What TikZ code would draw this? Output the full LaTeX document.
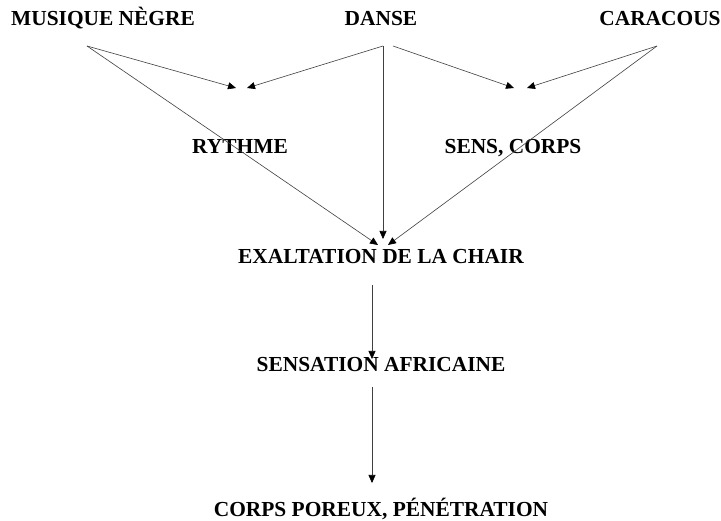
\documentclass[tikz,border=0pt]{standalone}
\usepackage{fontspec}
\setmainfont{Liberation Serif}
\usetikzlibrary{arrows.meta}
\begin{document}
\begin{tikzpicture}[x=1pt,y=-1pt,
  lbl/.style={anchor=base,inner sep=0pt,font=\fontsize{21.4}{24}\selectfont\bfseries},
  link/.style={draw=black!75,line width=0.6pt},
  arr/.style={link,-{Triangle[length=8pt,width=7pt,fill=black,color=black]}}]
\useasboundingbox (0,0) rectangle (721,521);
\fill[white] (0,0) rectangle (721,521);
% nodes
\node[lbl] (mus) at (103,26) {MUSIQUE NÈGRE};
\node[lbl] (dan) at (381,26) {DANSE};
\node[lbl] (car) at (660,26) {CARACOUS};
\node[lbl] (ryt) at (240,154) {RYTHME};
\node[lbl] (sen) at (513,154) {SENS, CORPS};
\node[lbl] (exa) at (381,264) {EXALTATION DE LA CHAIR};
\node[lbl] (afr) at (381,372) {SENSATION AFRICAINE};
\node[lbl] (cor) at (381,517) {CORPS POREUX, PÉNÉTRATION};
% connector end points
\coordinate (musout) at (87,46);
\coordinate (danl) at (383,46);
\coordinate (danr) at (393,46);
\coordinate (carout) at (657,46);
\coordinate (rytinl) at (236,88);
\coordinate (rytinr) at (247,88);
\coordinate (seninl) at (514,88);
\coordinate (seninr) at (527,88);
\coordinate (exainl) at (378,245);
\coordinate (exainm) at (383,239);
\coordinate (exainr) at (388,245);
\coordinate (exaout) at (372,285);
\coordinate (afrin) at (372,359);
\coordinate (afrout) at (372,387);
\coordinate (corin) at (372,483);
% connectors
\draw[arr] (musout) -- (rytinl);
\draw[arr] (danl) -- (rytinr);
\draw[arr] (danr) -- (seninl);
\draw[arr] (carout) -- (seninr);
\draw[arr] (musout) -- (exainl);
\draw[arr] (danl) -- (exainm);
\draw[arr] (carout) -- (exainr);
\draw[arr] (exaout) -- (afrin);
\draw[arr] (afrout) -- (corin);
\end{tikzpicture}
\end{document}
